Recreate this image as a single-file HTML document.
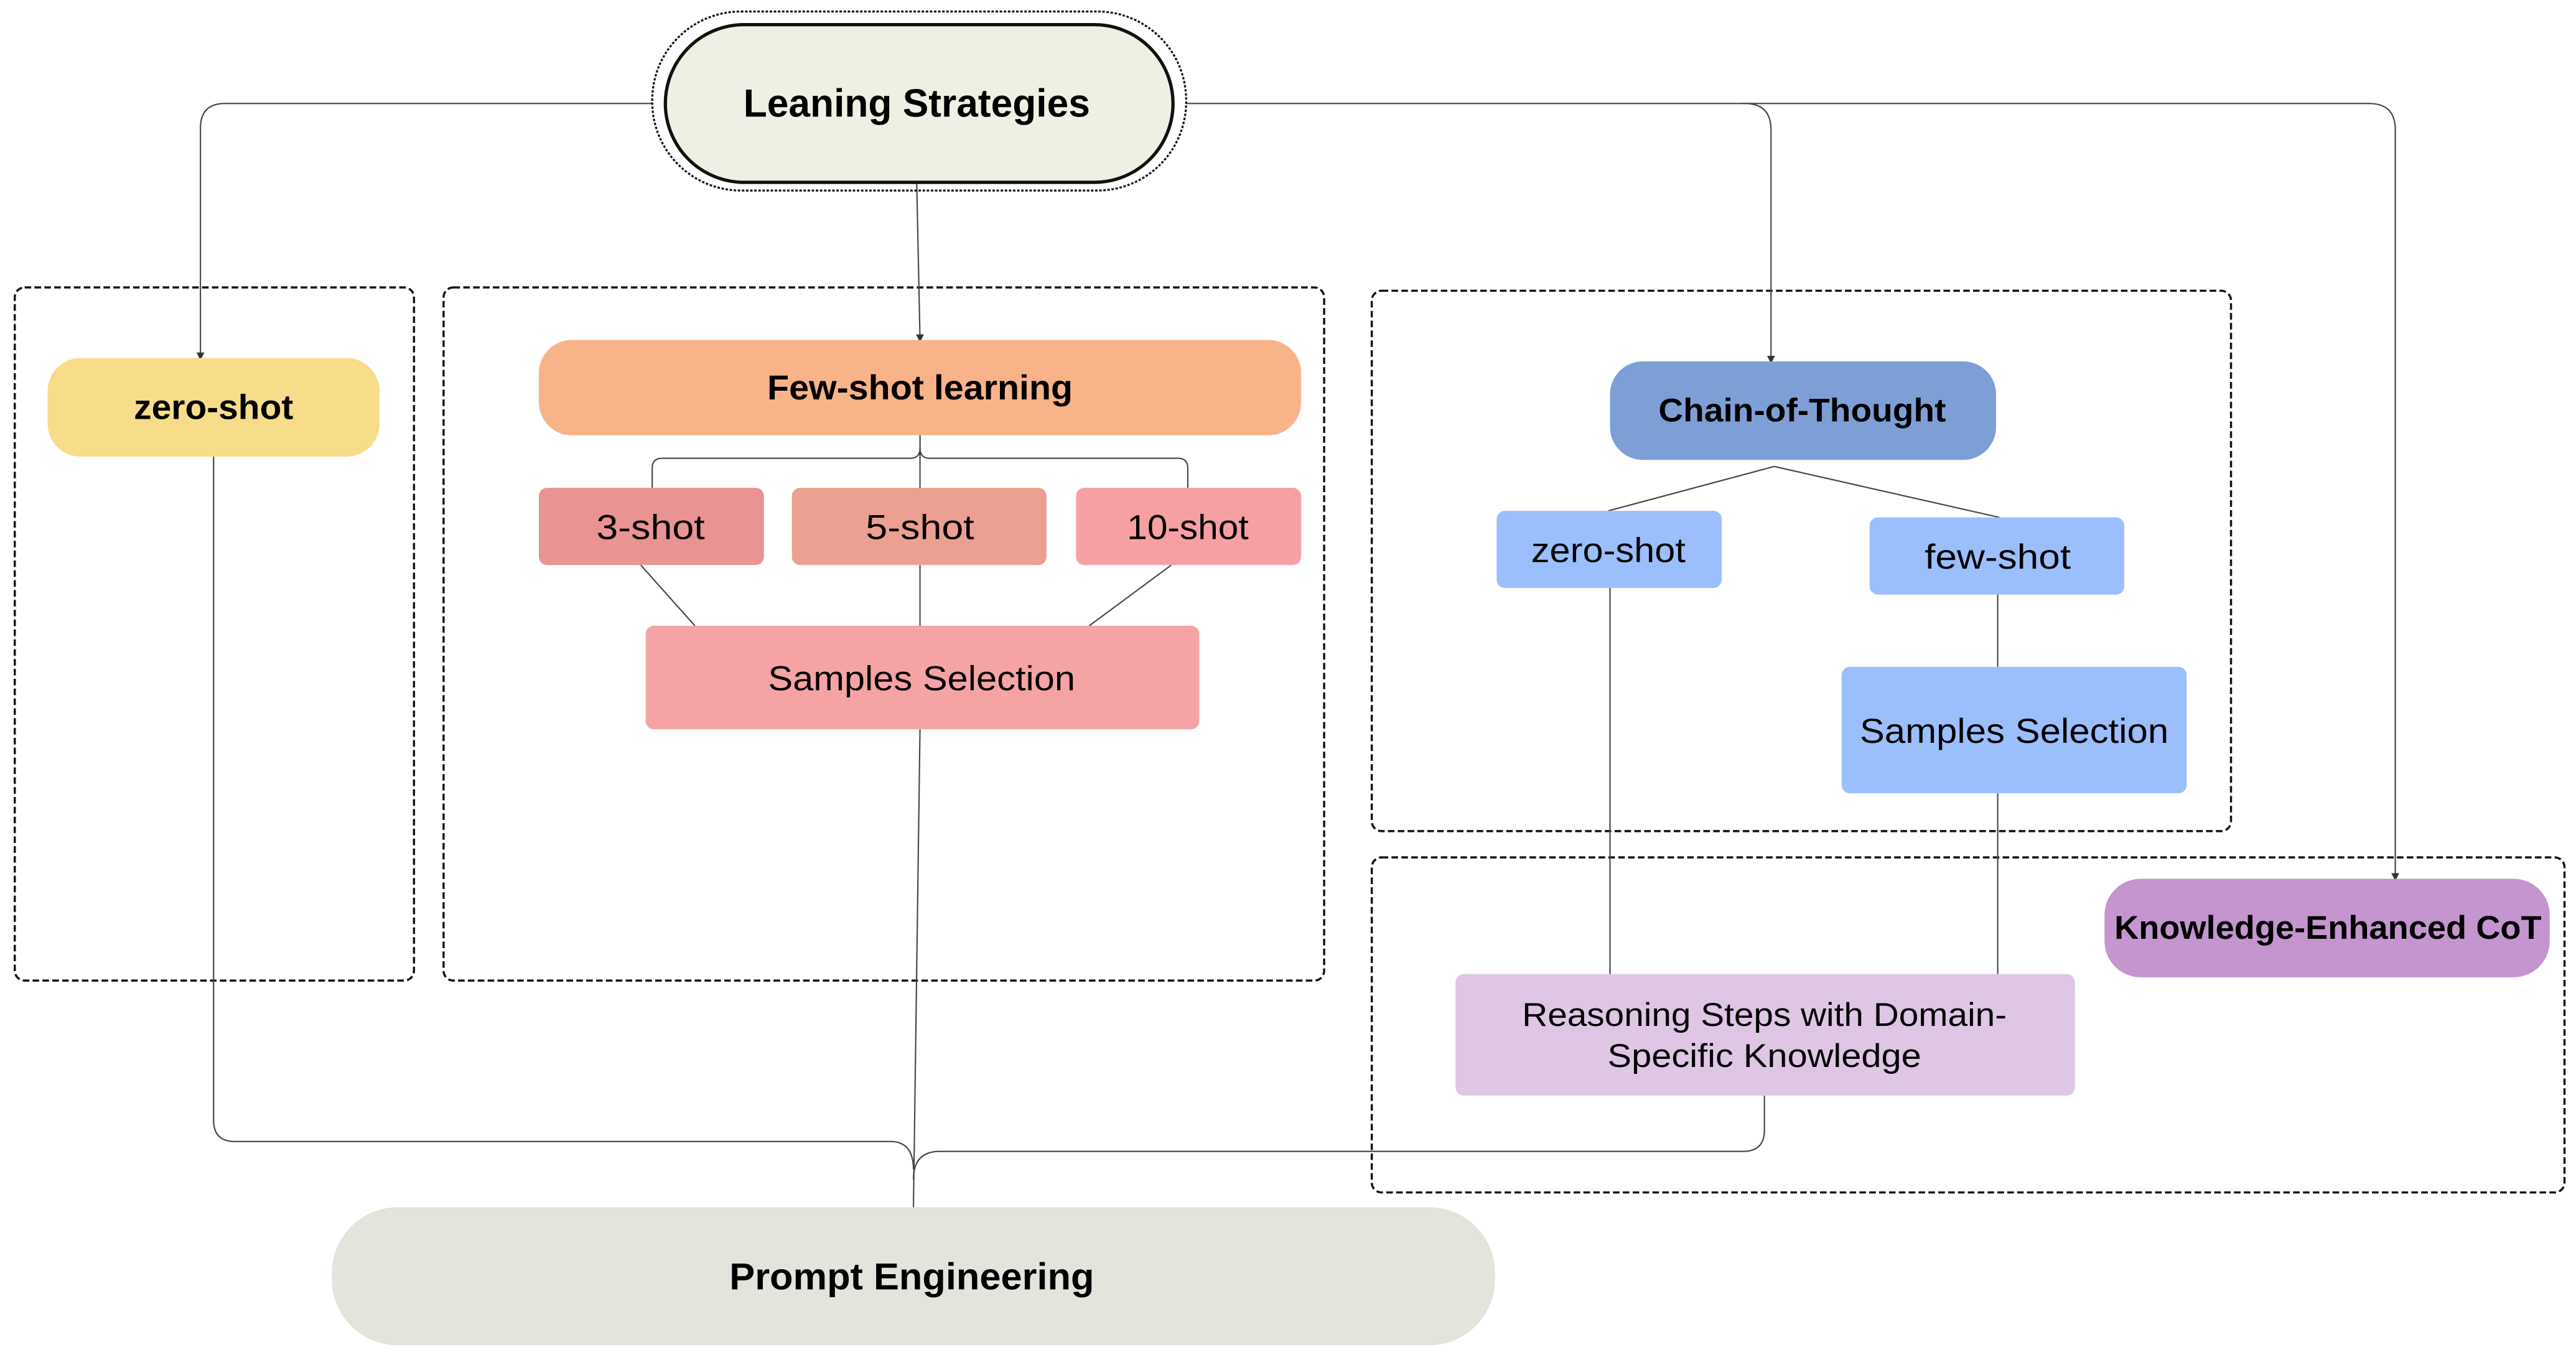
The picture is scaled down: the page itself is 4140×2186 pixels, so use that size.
<!DOCTYPE html>
<html><head><meta charset="utf-8"><style>
html,body{margin:0;padding:0;background:#fff;}
svg{display:block;}
text{font-family:"Liberation Sans",sans-serif;fill:#000;text-anchor:middle;dominant-baseline:central;}
.b{font-weight:bold;}
</style></head><body>
<svg width="4140" height="2186" viewBox="0 0 1568 828" preserveAspectRatio="none" xmlns="http://www.w3.org/2000/svg">
<defs><marker id="a" markerWidth="6" markerHeight="6" refX="3" refY="3" orient="auto"><path d="M0,0 L6,3 L0,6 z" fill="#333"/></marker></defs>
<rect width="1568" height="828" fill="#fff"/>
<!-- dashed groups -->
<g fill="none" stroke="#111" stroke-width="1.3" stroke-dasharray="4,2">
<rect x="9" y="175" width="243" height="422" rx="6"/>
<rect x="270" y="175" width="536" height="422" rx="6"/>
<rect x="835" y="177" width="523" height="329" rx="6"/>
<rect x="835" y="522" width="726" height="204" rx="6"/>
</g>
<!-- connectors -->
<g fill="none" stroke="#444" stroke-width="0.8">
<path d="M397,63 H137 Q122,63 122,78 V217" marker-end="url(#a)"/>
<path d="M722,63 H1062 Q1078,63 1078,79 V219" marker-end="url(#a)"/>
<path d="M1060,63 H1442 Q1458,63 1458,79 V534" marker-end="url(#a)"/>
<path d="M558,111 L560,206" marker-end="url(#a)"/>
<path d="M560,265 V273 Q560,279 554,279 H403 Q397,279 397,285 V297"/>
<path d="M560,273 Q560,279 566,279 H717 Q723,279 723,285 V297"/>
<path d="M560,265 V381"/>
<path d="M390,344 L423,381"/>
<path d="M713,344 L663,381"/>
<path d="M560,444 L556,735"/>
<path d="M1080,284 L979,311"/>
<path d="M1080,284 L1217,315"/>
<path d="M980,358 V593"/>
<path d="M1216,362 V406"/>
<path d="M1216,483 V593"/>
<path d="M130,278 V682 Q130,695 143,695 H542 Q556,695 556,712"/>
<path d="M1074,667 V688 Q1074,701 1061,701 H572 Q556,701 556,718"/>
</g>
<!-- Leaning Strategies -->
<rect x="397" y="7" width="325" height="109" rx="54" fill="none" stroke="#111" stroke-width="1.2" stroke-dasharray="1.5,1"/>
<rect x="405" y="15" width="309" height="96" rx="48" fill="#eff0e4" stroke="#111" stroke-width="2"/>
<text class="b" x="558" y="63" font-size="24" textLength="211" lengthAdjust="spacingAndGlyphs">Leaning Strategies</text>
<!-- zero-shot -->
<rect x="29" y="218" width="202" height="60" rx="20" fill="#f7dc8a"/>
<text class="b" x="130" y="248" font-size="21" textLength="97" lengthAdjust="spacingAndGlyphs">zero-shot</text>
<!-- few-shot learning -->
<rect x="328" y="207" width="464" height="58" rx="20" fill="#f9b388"/>
<text class="b" x="560" y="236" font-size="21" textLength="186" lengthAdjust="spacingAndGlyphs">Few-shot learning</text>
<rect x="328" y="297" width="137" height="47" rx="5" fill="#ea9393"/>
<text x="396" y="321" font-size="21" textLength="66" lengthAdjust="spacingAndGlyphs">3-shot</text>
<rect x="482" y="297" width="155" height="47" rx="5" fill="#eba092"/>
<text x="560" y="321" font-size="21" textLength="66" lengthAdjust="spacingAndGlyphs">5-shot</text>
<rect x="655" y="297" width="137" height="47" rx="5" fill="#f6a0a3"/>
<text x="723" y="321" font-size="21" textLength="74" lengthAdjust="spacingAndGlyphs">10-shot</text>
<rect x="393" y="381" width="337" height="63" rx="5" fill="#f6a3a5"/>
<text x="561" y="413" font-size="21" textLength="187" lengthAdjust="spacingAndGlyphs">Samples Selection</text>
<!-- CoT -->
<rect x="980" y="220" width="235" height="60" rx="20" fill="#7e9fd6"/>
<text class="b" x="1097" y="250" font-size="20" textLength="175" lengthAdjust="spacingAndGlyphs">Chain-of-Thought</text>
<rect x="911" y="311" width="137" height="47" rx="5" fill="#9bbffc"/>
<text x="979" y="335" font-size="21" textLength="94" lengthAdjust="spacingAndGlyphs">zero-shot</text>
<rect x="1138" y="315" width="155" height="47" rx="5" fill="#9bbffc"/>
<text x="1216" y="339" font-size="21" textLength="89" lengthAdjust="spacingAndGlyphs">few-shot</text>
<rect x="1121" y="406" width="210" height="77" rx="5" fill="#9bbffc"/>
<text x="1226" y="445" font-size="21" textLength="188" lengthAdjust="spacingAndGlyphs">Samples Selection</text>
<!-- Reasoning -->
<rect x="886" y="593" width="377" height="74" rx="5" fill="#dfc6e5"/>
<text x="1074" y="618" font-size="20" textLength="295" lengthAdjust="spacingAndGlyphs">Reasoning Steps with Domain-</text>
<text x="1074" y="643" font-size="20" textLength="191" lengthAdjust="spacingAndGlyphs">Specific Knowledge</text>
<!-- KE CoT -->
<rect x="1281" y="535" width="271" height="60" rx="22" fill="#c595d0"/>
<text class="b" x="1417" y="565" font-size="20" textLength="260" lengthAdjust="spacingAndGlyphs">Knowledge-Enhanced CoT</text>
<!-- Prompt Engineering -->
<rect x="202" y="735" width="708" height="84" rx="40" fill="#e4e3dc"/>
<text class="b" x="555" y="777" font-size="23" textLength="222" lengthAdjust="spacingAndGlyphs">Prompt Engineering</text>
</svg>
</body></html>
